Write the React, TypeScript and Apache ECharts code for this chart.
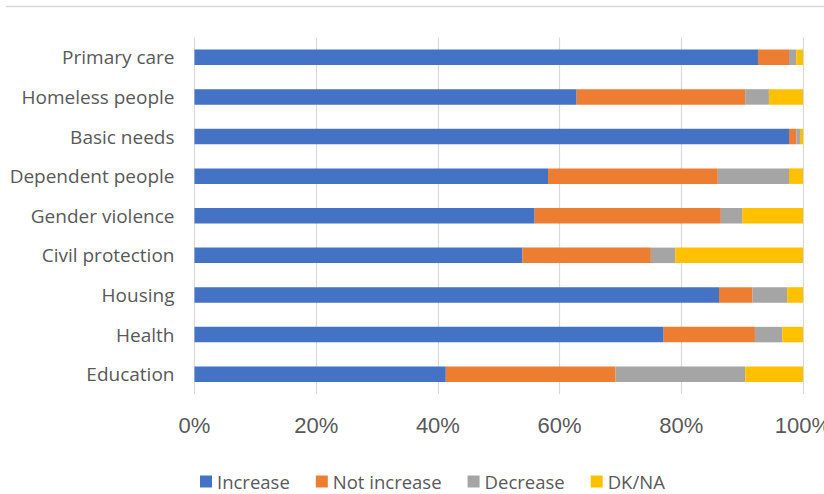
import React, { useEffect, useRef } from "react";
import * as echarts from "echarts";

// Services, listed top to bottom as drawn
const categories = [
  "Primary care",
  "Homeless people",
  "Basic needs",
  "Dependent people",
  "Gender violence",
  "Civil protection",
  "Housing",
  "Health",
  "Education",
];

// Share of answers per service (%)
const increase = [92.6, 62.8, 97.7, 58.1, 55.9, 53.9, 86.2, 77.1, 41.3];
const notIncrease = [5.1, 27.7, 1.2, 27.9, 30.6, 21.1, 5.5, 15.0, 27.9];
const decrease = [1.2, 3.9, 0.6, 11.7, 3.5, 4.0, 5.7, 4.5, 21.3];
const dkNa = [1.1, 5.6, 0.5, 2.3, 10.0, 21.0, 2.6, 3.4, 9.5];

const seriesNames = ["Increase", "Not increase", "Decrease", "DK/NA"];
const seriesColors = ["#4472C4", "#ED7D31", "#A5A5A5", "#FFC000"];
const seriesData = [increase, notIncrease, decrease, dkNa];

const TEXT = "#595959";
const GRID = "#D9D9D9";

export default function App() {
  const ref = useRef<HTMLDivElement>(null);

  useEffect(() => {
    if (!ref.current) return;
    const chart = echarts.init(ref.current, null, { renderer: "svg" });
    chart.setOption({
      animation: false,
      backgroundColor: "#FFFFFF",
      graphic: [
        {
          type: "line",
          shape: { x1: 6, y1: 6.5, x2: 824, y2: 6.5 },
          style: { stroke: GRID, lineWidth: 1.5 },
          silent: true,
        },
      ],
      grid: {
        left: 194.5,
        right: 21,
        top: 37.5,
        bottom: 100,
        containLabel: false,
        outerBoundsMode: "none",
      },
      xAxis: {
        type: "value",
        min: 0,
        max: 100,
        interval: 20,
        axisLine: { show: false },
        axisTick: { show: false },
        splitLine: { show: true, lineStyle: { color: GRID, width: 1.2 } },
        axisLabel: {
          formatter: "{value}%",
          color: TEXT,
          fontFamily: "Liberation Sans",
          fontSize: 22,
          margin: 20,
        },
      },
      yAxis: {
        type: "category",
        data: categories,
        inverse: true,
        axisLine: { show: false },
        axisTick: { show: false },
        axisLabel: {
          color: TEXT,
          fontFamily: "Open Sans",
          fontSize: 19,
          margin: 20,
        },
      },
      legend: {
        data: seriesNames,
        left: 200,
        top: 472,
        padding: 0,
        itemWidth: 12,
        itemHeight: 12,
        itemGap: 26,
        icon: "rect",
        textStyle: { color: TEXT, fontFamily: "Open Sans", fontSize: 18.5 },
      },
      series: seriesNames.map((name, i) => ({
        name,
        type: "bar",
        stack: "total",
        barWidth: 15.5,
        data: seriesData[i],
        itemStyle: { color: seriesColors[i] },
      })),
    });
    return () => chart.dispose();
  }, []);

  return (
    <div
      ref={ref}
      style={{ position: "fixed", left: 0, top: 0, width: 824, height: 494 }}
    />
  );
}
